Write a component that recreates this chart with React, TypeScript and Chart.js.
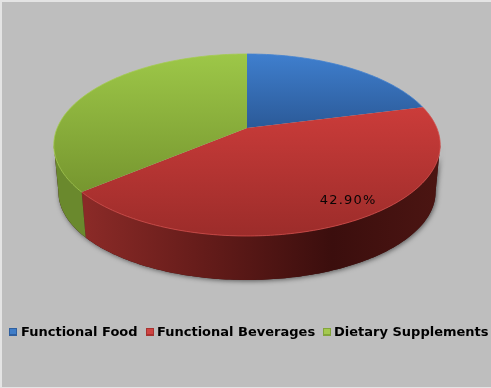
import React, { useEffect, useRef } from "react";
import { Chart, registerables } from "chart.js";

Chart.register(...registerables);

const categories = ["Functional Food", "Functional Beverages", "Dietary Supplements"];
const shares = [21.0, 42.9, 36.1];
const labelledSlices = [1];
const topLight = ["#3f7fce", "#cb3c3a", "#9dc748"];
const topDark = ["#2b5a98", "#9c2c2a", "#76962f"];
const rimColors = ["#4583cf", "#d24d4a", "#a3cc4e"];
const legendEdge = ["#2f5f9f", "#a83230", "#83a53b"];
const legendCore = ["#3f7dc8", "#cf4442", "#a4c94f"];
const legendSwatchX = [9, 146, 323];
const legendTextX = [21, 157, 334];
const legendY = 332;

const TILT = -0.1868;
const apexX = 247;
const apexY = 128;
const spreadX = 189.8;
const spreadY = 63.9;
const ellipseCy = 145;
const baseCy = 192;
const baseScaleX = 0.976;
const baseScaleY = 0.967;
const frontFrom = 100.8;
const frontTo = 259.2;

// Chart.js arc angle (radians, 0 = 3 o'clock) to the tilted disc's rim.
function rim(angleRad: number, r = 1) {
  const u = Math.cos(angleRad) * r;
  const v = Math.sin(angleRad) * r;
  const w = 1 + TILT * v;
  return { x: apexX + (spreadX * u) / w, y: (spreadY * v + apexY) / w };
}
function base(p: { x: number; y: number }) {
  return { x: apexX + baseScaleX * (p.x - apexX), y: baseCy + baseScaleY * (p.y - ellipseCy) };
}
const fromTop = (deg: number) => ((deg - 90) * Math.PI) / 180;
const toTop = (rad: number) => (rad * 180) / Math.PI + 90;

function samples(a: number, b: number) {
  const n = Math.max(2, Math.ceil(b - a));
  const out = [];
  for (let i = 0; i <= n; i++) out.push(rim(fromTop(a + ((b - a) * i) / n)));
  return out;
}

const pie3d = {
  id: "pie3d",
  beforeDatasetsDraw(chart: any) {
    const ctx = chart.ctx as CanvasRenderingContext2D;
    const arcs = chart.getDatasetMeta(0).data;
    const spans = arcs.map((el: any) => [toTop(el.startAngle), toTop(el.endAngle)]);

    const wall = (from: number, to: number) => {
      const top = samples(from, to);
      const low = top.map(base).reverse();
      ctx.beginPath();
      top.concat(low).forEach((p: any, i: number) => (i ? ctx.lineTo(p.x, p.y) : ctx.moveTo(p.x, p.y)));
      ctx.closePath();
    };
    const pairs = spans
      .map((s: number[], i: number) => ({ i, from: Math.max(s[0], frontFrom), to: Math.min(s[1], frontTo) }))
      .filter((s: any) => s.to > s.from);

    // soft shadow under the disc
    ctx.save();
    ctx.shadowColor = "rgba(0,0,0,0.55)";
    ctx.shadowBlur = 5;
    ctx.shadowOffsetX = 1;
    ctx.shadowOffsetY = 1;
    ctx.fillStyle = "#3a0f0e";
    pairs.forEach((s: any) => {
      wall(s.from, s.to);
      ctx.fill();
    });
    ctx.restore();

    // side walls
    pairs.forEach((s: any) => {
      if (s.i === 1) {
        const g = ctx.createLinearGradient(87, 0, 437, 0);
        g.addColorStop(0, "#8a2a27");
        g.addColorStop(0.33, "#651c1a");
        g.addColorStop(0.7, "#3b0e0d");
        g.addColorStop(1, "#4b1512");
        ctx.fillStyle = g;
      } else {
        ctx.fillStyle = "#6a892d";
      }
      wall(s.from, s.to);
      ctx.fill();
    });

    // top faces
    arcs.forEach((_: any, i: number) => {
      const pts = samples(spans[i][0], spans[i][1]);
      const ys = pts.map((p: any) => p.y).concat(apexY);
      const g = ctx.createLinearGradient(0, Math.min(...ys), 0, Math.max(...ys));
      g.addColorStop(0, topLight[i]);
      g.addColorStop(1, topDark[i]);
      ctx.fillStyle = g;
      ctx.beginPath();
      ctx.moveTo(apexX, apexY);
      pts.forEach((p: any) => ctx.lineTo(p.x, p.y));
      ctx.closePath();
      ctx.fill();
      ctx.strokeStyle = rimColors[i];
      ctx.lineWidth = 0.8;
      ctx.beginPath();
      pts.forEach((p: any, k: number) => (k ? ctx.lineTo(p.x, p.y) : ctx.moveTo(p.x, p.y)));
      ctx.stroke();
    });

    // value label
    labelledSlices.forEach((i) => {
      const mid = (arcs[i].startAngle + arcs[i].endAngle) / 2 - 0.1;
      const p = rim(mid, 0.85);
      ctx.save();
      ctx.font = "13px 'DejaVu Sans'";
      (ctx as any).letterSpacing = "1.2px";
      ctx.fillStyle = "#0a0505";
      ctx.textAlign = "center";
      ctx.textBaseline = "middle";
      ctx.fillText(shares[i].toFixed(2) + "%", p.x, p.y);
      ctx.restore();
    });

    // legend
    ctx.save();
    ctx.font = "bold 13px 'DejaVu Sans'";
    ctx.textBaseline = "middle";
    ctx.textAlign = "left";
    categories.forEach((name, i) => {
      ctx.fillStyle = legendEdge[i];
      ctx.fillRect(legendSwatchX[i], legendY - 4, 8, 8);
      ctx.fillStyle = legendCore[i];
      ctx.fillRect(legendSwatchX[i] + 1, legendY - 3, 6, 5);
      ctx.fillStyle = "#000";
      ctx.fillText(name, legendTextX[i], legendY + 1);
    });
    ctx.restore();
    return false;
  },
};

const backdrop = {
  id: "backdrop",
  beforeDraw(chart: any) {
    const { ctx, width, height } = chart;
    ctx.save();
    ctx.fillStyle = "#e4e4e4";
    ctx.fillRect(0, 0, width, height);
    ctx.fillStyle = "#bebebe";
    ctx.fillRect(2, 2, width - 2, height - 3);
    ctx.restore();
  },
};

export default function App() {
  const ref = useRef<HTMLCanvasElement>(null);
  useEffect(() => {
    document.body.style.margin = "0";
    const chart = new Chart(ref.current!, {
      type: "pie",
      data: {
        labels: categories,
        datasets: [{ data: shares, backgroundColor: legendEdge, borderWidth: 0 }],
      },
      plugins: [backdrop, pie3d],
      options: {
        responsive: false,
        animation: false,
        layout: { padding: { bottom: 44 } },
        plugins: {
          tooltip: { enabled: false },
          legend: { display: false },
        },
      },
    } as any);
    return () => chart.destroy();
  }, []);
  return <canvas ref={ref} width={491} height={388} style={{ display: "block" }} />;
}
